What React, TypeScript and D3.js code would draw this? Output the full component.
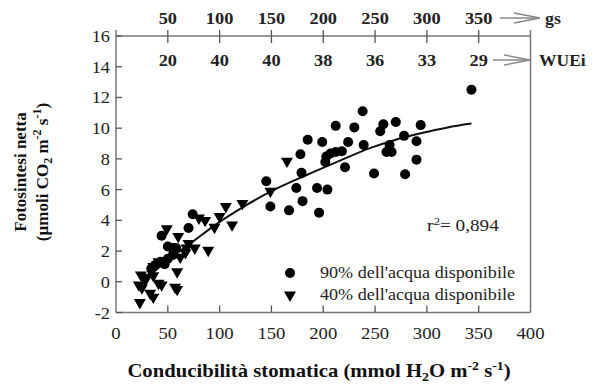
import React from "react";
import * as d3 from "d3";

const xTicks = [0, 50, 100, 150, 200, 250, 300, 350, 400];
const yTicks = [-2, 0, 2, 4, 6, 8, 10, 12, 14, 16];
const gsLabels = [50, 100, 150, 200, 250, 300, 350];
const wueiLabels = ["20", "40", "40", "38", "36", "33", "29"];

// 90% dell'acqua disponibile (circles)
const series90: [number, number][] = [
  [34, 0.85], [38, 1.1], [43, 1.3], [47, 1.15], [50, 1.5], [44, 3.0], [50, 2.3], [58, 2.2],
  [55, 1.75], [70, 3.5], [74, 4.4],
  [145, 6.55], [149, 4.9], [167, 4.65], [174, 6.1], [178, 8.3], [179, 7.1], [180, 5.25],
  [185, 9.25], [194, 6.1], [196, 4.5], [199, 9.1], [202, 7.8], [204, 6.0], [203, 8.15],
  [207, 8.35], [212, 8.45], [218, 8.5], [212, 10.15], [221, 7.45], [224, 9.1], [230, 10.05],
  [238, 11.1], [239, 8.9], [249, 7.05], [255, 9.8], [258, 10.25], [261, 8.45], [264, 8.9],
  [266, 8.45], [270, 10.4], [278, 9.5], [279, 7.0], [290, 9.15], [290, 7.95], [294, 10.2],
  [343, 12.5],
];

// 40% dell'acqua disponibile (triangles)
const series40: [number, number][] = [
  [22, -0.2], [23, -1.35], [24, 0.45], [25, -0.4], [28, 0.1], [30, 0.3], [33, -0.75], [36, -1.0],
  [36, 0.4], [41, -0.1], [44, -0.2], [57, -0.35], [59, -0.5], [59, 0.65], [36, 1.0], [41, 1.3],
  [49, 3.45], [52, 2.3], [60, 2.95], [62, 1.6], [67, 1.9], [68, 2.2], [70, 2.5], [76, 2.2],
  [80, 4.15], [86, 4.0], [89, 2.05], [95, 3.55], [100, 4.25], [106, 4.9], [112, 3.7],
  [122, 5.1], [149, 5.9], [165, 7.85],
];

// regression curve
const fitCurve: [number, number][] = [
  [28, 0.15], [50, 1.4], [71, 2.45], [100, 3.9], [121, 4.8], [150, 5.9], [184, 6.95],
  [215, 7.85], [245, 8.7], [270, 9.25], [293, 9.65], [320, 10.05], [343, 10.3],
];

const FONT = "Liberation Serif, Times New Roman, serif";

function SText({ x, y, sx = 1, children, ...rest }: any) {
  return (
    <g transform={`translate(${x},${y}) scale(${sx},1)`}>
      <text x={0} y={0} {...rest}>
        {children}
      </text>
    </g>
  );
}

export default function App() {
  const W = 600, H = 387;
  const L = 116, R = 530.5, T = 36, B = 312.5;
  const x = d3.scaleLinear().domain([0, 400]).range([L, R]);
  const y = d3.scaleLinear().domain([-2, 16]).range([B, T]);
  const line = d3
    .line<[number, number]>()
    .x((d) => x(d[0]))
    .y((d) => y(d[1]))
    .curve(d3.curveMonotoneX);
  const tri = d3.symbol().type(d3.symbolTriangle).size(62)();
  const axisCol = "#777";

  const arrow = (x0: number, x1: number, yy: number, spread: number, len: number) => (
    <g stroke="#888" strokeWidth={1.3} fill="none">
      <line x1={x0} y1={yy} x2={x1} y2={yy} />
      <line x1={x1 - len} y1={yy - spread} x2={x1} y2={yy} />
      <line x1={x1 - len} y1={yy + spread} x2={x1} y2={yy} />
    </g>
  );

  return (
    <svg
      width={W}
      height={H}
      style={{ position: "absolute", left: 0, top: 0, background: "#fff", fontFamily: FONT }}
    >
      {/* frame */}
      <g stroke={axisCol} strokeWidth={1.5} fill="none">
        <line x1={L} y1={T} x2={R} y2={T} />
        <line x1={L} y1={B} x2={R} y2={B} />
        <line x1={L} y1={T - 6} x2={L} y2={B} />
        <line x1={R} y1={T - 6} x2={R} y2={B} />
      </g>
      {/* top ticks */}
      {gsLabels.map((v) => (
        <line key={"tt" + v} x1={x(v)} x2={x(v)} y1={T - 6} y2={T + 7} stroke="#555" strokeWidth={1.3} />
      ))}
      {/* bottom ticks */}
      {xTicks.filter((v) => v > 0 && v < 400).map((v) => (
        <line key={"bt" + v} x1={x(v)} x2={x(v)} y1={B} y2={B - 7} stroke="#555" strokeWidth={1.3} />
      ))}
      {/* left ticks */}
      {yTicks.map((v) => (
        <line key={"lt" + v} x1={L} x2={L + 6} y1={y(v)} y2={y(v)} stroke="#555" strokeWidth={1.3} />
      ))}
      {/* bottom labels */}
      {xTicks.map((v) => (
        <SText key={"bl" + v} x={x(v)} y={339} sx={1.1} textAnchor="middle" fontSize={17} fill="#222">
          {v}
        </SText>
      ))}
      {/* left labels */}
      {yTicks.map((v) => (
        <SText key={"ll" + v} x={110} y={y(v) + 6} sx={1.08} textAnchor="end" fontSize={17} fill="#222">
          {v}
        </SText>
      ))}
      {/* top gs labels */}
      {gsLabels.map((v) => (
        <SText key={"gs" + v} x={x(v)} y={24} sx={1.08} textAnchor="middle" fontSize={17} fontWeight="bold" fill="#222">
          {v}
        </SText>
      ))}
      {wueiLabels.map((v, i) => (
        <SText key={"wu" + i} x={x(gsLabels[i])} y={66} sx={1.08} textAnchor="middle" fontSize={17} fontWeight="bold" fill="#222">
          {v}
        </SText>
      ))}
      {arrow(500, 540, 18, 5, 26)}
      <SText x={545} y={24} sx={1.05} fontSize={17} fontWeight="bold" fill="#222">gs</SText>
      {arrow(493, 530, 60, 5, 26)}
      <SText x={539} y={66} sx={1.03} fontSize={17} fontWeight="bold" fill="#222">WUEi</SText>

      {/* fit curve */}
      <path d={line(fitCurve) || ""} fill="none" stroke="#111" strokeWidth={2} />

      {/* points */}
      {series90.map((d, i) => (
        <circle key={"c" + i} cx={x(d[0])} cy={y(d[1])} r={5} fill="#000" />
      ))}
      {series40.map((d, i) => (
        <path key={"t" + i} d={tri || ""} transform={`translate(${x(d[0])},${y(d[1])}) rotate(180)`} fill="#000" />
      ))}

      {/* r2 */}
      <SText x={427} y={231} sx={1.2} fontSize={16} fill="#222">
        r<tspan dy={-6} fontSize={11}>2</tspan>
        <tspan dy={6}>= 0,894</tspan>
      </SText>

      {/* legend */}
      <circle cx={290} cy={273} r={5} fill="#000" />
      <SText x={320} y={278} sx={1.13} fontSize={16} fill="#222">90% dell'acqua disponibile</SText>
      <path d={tri || ""} transform="translate(290,295) rotate(180)" fill="#000" />
      <SText x={320} y={300} sx={1.13} fontSize={16} fill="#222">40% dell'acqua disponibile</SText>

      {/* x title */}
      <SText x={319} y={377} sx={1.15} textAnchor="middle" fontSize={18} fontWeight="bold" fill="#111">
        Conducibilità stomatica (mmol H<tspan dy={4} fontSize={12}>2</tspan>
        <tspan dy={-4}>O m</tspan>
        <tspan dy={-7} fontSize={12}>-2</tspan>
        <tspan dy={7}> s</tspan>
        <tspan dy={-7} fontSize={12}>-1</tspan>
        <tspan dy={7}>)</tspan>
      </SText>

      {/* y title */}
      <text transform="translate(26,172) rotate(-90)" textAnchor="middle" fontSize={17} fontWeight="bold" fill="#111">
        Fotosintesi netta
      </text>
      <text transform="translate(48,172) rotate(-90)" textAnchor="middle" fontSize={17} fontWeight="bold" fill="#111">
        (µmoli CO<tspan dy={4} fontSize={12}>2</tspan>
        <tspan dy={-4}> m</tspan>
        <tspan dy={-7} fontSize={12}>-2</tspan>
        <tspan dy={7}> s</tspan>
        <tspan dy={-7} fontSize={12}>-1</tspan>
        <tspan dy={7}>)</tspan>
      </text>
    </svg>
  );
}
